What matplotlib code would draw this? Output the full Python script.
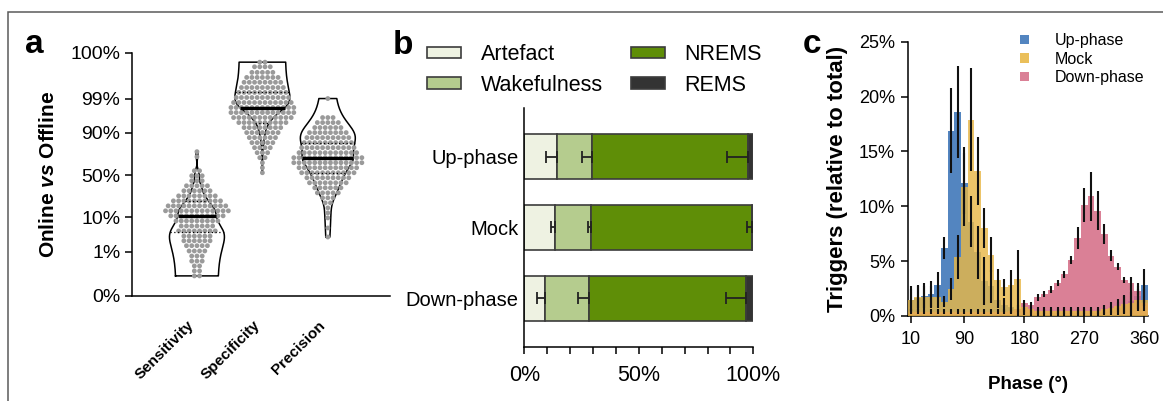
import math
import numpy as np
import matplotlib
matplotlib.use("Agg")
import matplotlib.pyplot as plt
from matplotlib.patches import Rectangle, Patch

plt.rcParams['font.family'] = ['Liberation Sans', 'DejaVu Sans']
plt.rcParams['mathtext.fontset'] = 'custom'
plt.rcParams['mathtext.it'] = 'Liberation Sans:italic:bold'
plt.rcParams['mathtext.rm'] = 'Liberation Sans:bold'
plt.rcParams['axes.linewidth'] = 1.1

# ---------------- data: panel a (online vs offline detection) ----------------
metrics = ['Sensitivity', 'Specificity', 'Precision']
sens_levels = [76.2, 71.2, 55.3, 49.2, 43.2, 37.3, 31.7, 26.4, 21.7, 17.5, 13.9, 10.8,
               8.2, 6.1, 4.5, 3.2, 2.3, 1.6, 1.06, 0.70, 0.45, 0.29, 0.18, 0.11]
sens_counts = [1, 1, 2, 3, 3, 5, 6, 8, 10, 12, 13, 11, 9, 7, 8, 6, 6, 5, 4, 3, 3, 2, 2, 2]
spec_levels = [99.97, 99.95, 99.91, 99.85, 99.76, 99.61, 99.40, 99.08, 98.63, 98.00, 97.13,
               95.98, 94.48, 92.56, 90.17, 87.27, 83.80, 79.78, 75.21, 70.19, 64.69, 58.87, 52.86]
spec_counts = [2, 4, 5, 7, 8, 9, 10, 11, 12, 13, 13, 12, 10, 8, 7, 6, 5, 4, 3, 2, 1, 1, 1]
prec_levels = [99.0, 95.98, 94.48, 92.56, 90.17, 87.27, 83.80, 79.78, 75.21, 70.19, 64.69,
               58.87, 52.86, 46.77, 40.79, 35.0, 29.5, 24.5, 19.97, 15.99, 12.55, 9.68, 5.42, 3.0]
prec_counts = [1, 3, 5, 6, 8, 9, 10, 11, 12, 14, 14, 12, 11, 9, 8, 6, 5, 3, 2, 1, 1, 1, 1, 1]
kde_bw = [3.0, 1.2, 4.5]
a_ticks = [0.012, 1, 10, 50, 90, 99, 99.99]
a_ticklabels = ['0%', '1%', '10%', '50%', '90%', '99%', '100%']

# ---------------- data: panel b (sleep stage of stimulation) ----------------
groups = ['Up-phase', 'Mock', 'Down-phase']
stages = ['Artefact', 'Wakefulness', 'NREMS', 'REMS']
artefact = [14.1, 13.5, 9.0]
wakefulness = [15.6, 15.5, 19.4]
nrems = [68.1, 70.3, 68.4]
rems = [2.2, 0.7, 3.2]
artefact_err = [4.6, 2.0, 3.6]
wakefulness_err = [4.4, 1.1, 4.8]
nrems_err = [9.2, 2.2, 8.7]

# ---------------- data: panel c (trigger phase histogram) ----------------
phase_bins = list(range(10, 361, 10))
up_phase = [1.5, 1.6, 1.8, 2.0, 2.8, 6.2, 16.9, 18.6, 12.1, 8.6, 5.8, 3.2, 2.7, 1.5, 1.0, 0.8,
            0.5, 0.4, 0.3, 0.3, 0.3, 0.3, 0.3, 0.3, 0.3, 0.3, 0.3, 0.3, 0.3, 0.4, 0.5, 0.7,
            1.0, 1.4, 1.8, 2.8]
up_phase_err = [1.2, 1.2, 1.2, 1.2, 1.2, 1.0, 3.9, 4.2, 2.8, 2.3, 2.4, 2.2, 1.5, 0.8, 0.6, 0.6,
                0.5, 0.3, 0.3, 0.3, 0.3, 0.3, 0.3, 0.3, 0.3, 0.3, 0.3, 0.3, 0.3, 0.3, 0.4, 0.6,
                0.8, 1.6, 1.2, 1.5]
mock = [1.5, 1.7, 1.7, 1.7, 1.7, 1.3, 2.5, 5.4, 11.8, 17.9, 13.2, 8.0, 5.6, 3.3, 2.6, 2.8,
        3.4, 0.8, 0.6, 0.5, 0.5, 0.5, 0.5, 0.5, 0.5, 0.5, 0.5, 0.5, 0.5, 0.6, 0.75, 0.95,
        1.1, 1.2, 1.45, 1.5]
mock_err = [1.0, 1.0, 1.0, 1.0, 1.0, 0.5, 1.0, 2.0, 3.6, 4.7, 3.1, 1.8, 1.6, 1.0, 0.8, 1.4,
            2.6, 0.4, 0.3, 0.3, 0.3, 0.3, 0.3, 0.3, 0.3, 0.3, 0.3, 0.3, 0.3, 0.4, 0.5, 0.6,
            0.8, 1.0, 1.0, 1.0]
down_phase = [0.4, 0.4, 0.4, 0.4, 0.4, 0.4, 0.4, 0.4, 0.4, 0.4, 0.4, 0.4, 0.4, 0.4, 0.4, 0.5,
              0.6, 1.15, 1.0, 1.7, 2.0, 2.4, 3.0, 3.8, 5.1, 7.1, 10.1, 10.9, 9.6, 7.5, 5.5, 4.5,
              3.3, 3.0, 2.3, 1.2]
down_phase_err = [0.2, 0.2, 0.2, 0.2, 0.2, 0.2, 0.2, 0.2, 0.2, 0.2, 0.2, 0.2, 0.2, 0.2, 0.2, 0.2,
                  0.2, 0.3, 0.3, 0.3, 0.3, 0.3, 0.3, 0.3, 0.4, 1.0, 1.55, 2.2, 1.75, 0.9, 0.5, 0.3,
                  0.3, 0.6, 0.4, 0.3]
c_xticks = [10, 90, 180, 270, 360]

W, H = 1163, 401
fig = plt.figure(figsize=(W / 100, H / 100), dpi=100)


def px_rect(left, top, right, bottom):
    return [left / W, 1 - bottom / H, (right - left) / W, (bottom - top) / H]


# outer frame
fig.add_artist(Rectangle((8 / W, -0.2), 1.2, 1.2 - 12 / H, transform=fig.transFigure,
                         fill=False, ec='#5a5a5a', lw=1.1))

# ---------------- probability (probit) scale helpers ----------------
_A = [-3.969683028665376e+01, 2.209460984245205e+02, -2.759285104469687e+02,
      1.383577518672690e+02, -3.066479806614716e+01, 2.506628277459239e+00]
_B = [-5.447609879822406e+01, 1.615858368580409e+02, -1.556989798598866e+02,
      6.680131188771972e+01, -1.328068155288572e+01]
_C = [-7.784894002430293e-03, -3.223964580411365e-01, -2.400758277161838e+00,
      -2.549732539343734e+00, 4.374664141464968e+00, 2.938163982698783e+00]
_D = [7.784695709041462e-03, 3.224671290700398e-01, 2.445134137142996e+00,
      3.754408661907416e+00]


def probit(pct):
    p = np.clip(np.asarray(pct, dtype=float) / 100.0, 1e-9, 1 - 1e-9)
    out = np.empty_like(p)
    lo = p < 0.02425
    hi = p > 1 - 0.02425
    mid = ~(lo | hi)
    q = p[mid] - 0.5
    r = q * q
    out[mid] = ((((((_A[0] * r + _A[1]) * r + _A[2]) * r + _A[3]) * r + _A[4]) * r + _A[5]) * q /
                (((((_B[0] * r + _B[1]) * r + _B[2]) * r + _B[3]) * r + _B[4]) * r + 1))
    q = np.sqrt(-2 * np.log(p[lo]))
    out[lo] = ((((((_C[0] * q + _C[1]) * q + _C[2]) * q + _C[3]) * q + _C[4]) * q + _C[5]) /
               ((((_D[0] * q + _D[1]) * q + _D[2]) * q + _D[3]) * q + 1))
    q = np.sqrt(-2 * np.log(1 - p[hi]))
    out[hi] = -((((((_C[0] * q + _C[1]) * q + _C[2]) * q + _C[3]) * q + _C[4]) * q + _C[5]) /
                ((((_D[0] * q + _D[1]) * q + _D[2]) * q + _D[3]) * q + 1))
    return out


_erf = np.vectorize(math.erf)


def inv_probit(z):
    z = np.asarray(z, dtype=float)
    return 100.0 * 0.5 * (1.0 + _erf(z / math.sqrt(2.0)))


# ---------------- panel a ----------------
axa = fig.add_axes(px_rect(131.5, 52.7, 390, 296))
axa.set_yscale('function', functions=(probit, inv_probit))
axa.set_ylim(a_ticks[0], a_ticks[-1])
axa.set_xlim(0, 3.95)
for s in ('top', 'right'):
    axa.spines[s].set_visible(False)

rows = [(sens_levels, sens_counts), (spec_levels, spec_counts), (prec_levels, prec_counts)]
half_max = 0.42
for i, ((levels, counts), bw) in enumerate(zip(rows, kde_bw)):
    xc = i + 1
    vals = np.repeat(np.array(levels, float), counts)
    zg = np.linspace(probit(vals.min())[()], probit(vals.max())[()], 500)
    pg = inv_probit(zg)
    dens = np.exp(-0.5 * ((pg[:, None] - vals[None, :]) / bw) ** 2).sum(axis=1)
    hw = dens / dens.max() * half_max
    xs = np.concatenate([xc - hw, (xc + hw)[::-1], [xc - hw[0]]])
    ys = np.concatenate([pg, pg[::-1], [pg[0]]])
    axa.plot(xs, ys, color='black', lw=1.1, zorder=2)
    # dots laid out in horizontal rows
    dx, dy = [], []
    for lev, cnt in zip(levels, counts):
        offs = (np.arange(cnt) - (cnt - 1) / 2) * 0.08
        dx.extend(xc + offs)
        dy.extend([lev] * cnt)
    axa.scatter(dx, dy, s=12, color='#9a9a9a', edgecolors='none', zorder=3)
    med = np.median(vals)
    q1, q3 = np.percentile(vals, [25, 75])
    w_med = np.interp(med, pg, hw)
    axa.plot([xc - w_med, xc + w_med], [med, med], color='black', lw=2.4, zorder=4,
             solid_capstyle='butt')
    for qv in (q1, q3):
        wq = np.interp(qv, pg, hw)
        axa.plot([xc - wq, xc + wq], [qv, qv], color='black', lw=0.9, ls=(0, (1, 2)), zorder=4)

axa.set_yticks(a_ticks)
axa.set_yticklabels(a_ticklabels)
axa.yaxis.set_minor_locator(matplotlib.ticker.NullLocator())
axa.tick_params(axis='y', labelsize=14, length=5, width=1.1, pad=3)
axa.set_xticks([1, 2, 3])
axa.set_xticklabels(metrics, rotation=45, ha='right', va='top', fontweight='bold', fontsize=11)
axa.tick_params(axis='x', length=0, pad=16)
axa.set_ylabel(r'Online $\mathit{vs}$ Offline', fontsize=15, fontweight='bold')
axa.yaxis.set_label_coords(-0.285, 0.5)
fig.text(25 / W, 1 - 53 / H, 'a', fontsize=24, fontweight='bold', ha='left', va='baseline')

# ---------------- panel b ----------------
axb = fig.add_axes(px_rect(524.3, 108.3, 753.3, 346.7))
colors_b = ['#eef2e2', '#b5cc8e', '#5f8e07', '#333333']
ypos = np.arange(len(groups))
left = np.zeros(len(groups))
seg_vals = [artefact, wakefulness, nrems, rems]
seg_errs = [artefact_err, wakefulness_err, nrems_err, None]
for vals, errs, col, name in zip(seg_vals, seg_errs, colors_b, stages):
    vals = np.array(vals)
    axb.barh(ypos, vals, left=left, height=0.64, color=col, edgecolor='#3c3c3c',
             linewidth=1.2, label=name, zorder=2)
    right = left + vals
    if errs is not None:
        axb.errorbar(right, ypos, xerr=[errs, np.zeros(len(errs))], fmt='none',
                     ecolor='#222222', elinewidth=1.3, capsize=4.5, capthick=1.3, zorder=3)
    left = right
axb.set_xlim(0, 100)
axb.set_ylim(2.68, -0.68)
axb.set_yticks(ypos)
axb.set_yticklabels(groups)
axb.set_xticks([0, 50, 100])
axb.set_xticklabels(['0%', '50%', '100%'])
axb.set_xticks(np.arange(10, 100, 10), minor=True)
axb.tick_params(axis='y', length=0, labelsize=14.5, pad=4)
axb.tick_params(axis='x', which='both', length=5, width=1.1, labelsize=15.5, pad=8)
for s in ('top', 'right'):
    axb.spines[s].set_visible(False)
handles_b = [Patch(facecolor=c, edgecolor='#3c3c3c', linewidth=1.2) for c in colors_b]
fig.legend(handles_b, stages, ncol=2, loc='upper left', bbox_to_anchor=(427 / W, 1 - 44 / H),
           frameon=False, fontsize=15.5, handlelength=1.6, handleheight=0.45,
           handletextpad=0.9, columnspacing=1.3, labelspacing=0.45, borderpad=0,
           borderaxespad=0)
fig.text(393 / W, 1 - 54 / H, 'b', fontsize=24, fontweight='bold', ha='left', va='baseline')

# ---------------- panel c ----------------
axc = fig.add_axes(px_rect(907.6, 41.7, 1147.8, 316))
col_up, col_mock, col_down = '#4a7ebd', '#e8b848', '#d6728b'
series = [(up_phase, up_phase_err, col_up, 0.95, 'Up-phase', 1),
          (down_phase, down_phase_err, col_down, 0.9, 'Down-phase', 2),
          (mock, mock_err, col_mock, 0.82, 'Mock', 3)]
for vals, errs, col, alpha, name, z in series:
    axc.bar(phase_bins, vals, width=10, color=col, alpha=alpha, linewidth=0, zorder=z)
for vals, errs, col, alpha, name, z in series:
    axc.errorbar(phase_bins, vals, yerr=errs, fmt='none', ecolor='#111111', elinewidth=1.5,
                 capsize=0, zorder=5)
axc.set_xlim(5, 365)
axc.set_ylim(0, 25)
axc.set_xticks(c_xticks)
axc.set_yticks([0, 5, 10, 15, 20, 25])
axc.set_yticklabels(['0%', '5%', '10%', '15%', '20%', '25%'])
axc.tick_params(axis='both', length=5, width=1.1, labelsize=13, pad=4)
axc.tick_params(axis='x', pad=6)
for s in ('top', 'right'):
    axc.spines[s].set_visible(False)
axc.set_ylabel('Triggers (relative to total)', fontsize=16, fontweight='bold')
axc.yaxis.set_label_coords(-0.25, 0.5)
axc.set_xlabel('Phase (°)', fontsize=13.5, fontweight='bold', labelpad=20)
handles_c = [Patch(facecolor=col_up, alpha=0.95), Patch(facecolor=col_mock, alpha=0.9),
             Patch(facecolor=col_down, alpha=0.9)]
fig.legend(handles_c, ['Up-phase', 'Mock', 'Down-phase'], loc='upper left',
           bbox_to_anchor=(1020 / W, 1 - 33 / H), frameon=False, fontsize=11.5,
           handlelength=0.55, handleheight=0.55, handletextpad=1.6, labelspacing=0.22,
           borderpad=0, borderaxespad=0)
fig.text(803 / W, 1 - 53 / H, 'c', fontsize=24, fontweight='bold', ha='left', va='baseline')

fig.savefig('out.png', dpi=100)
